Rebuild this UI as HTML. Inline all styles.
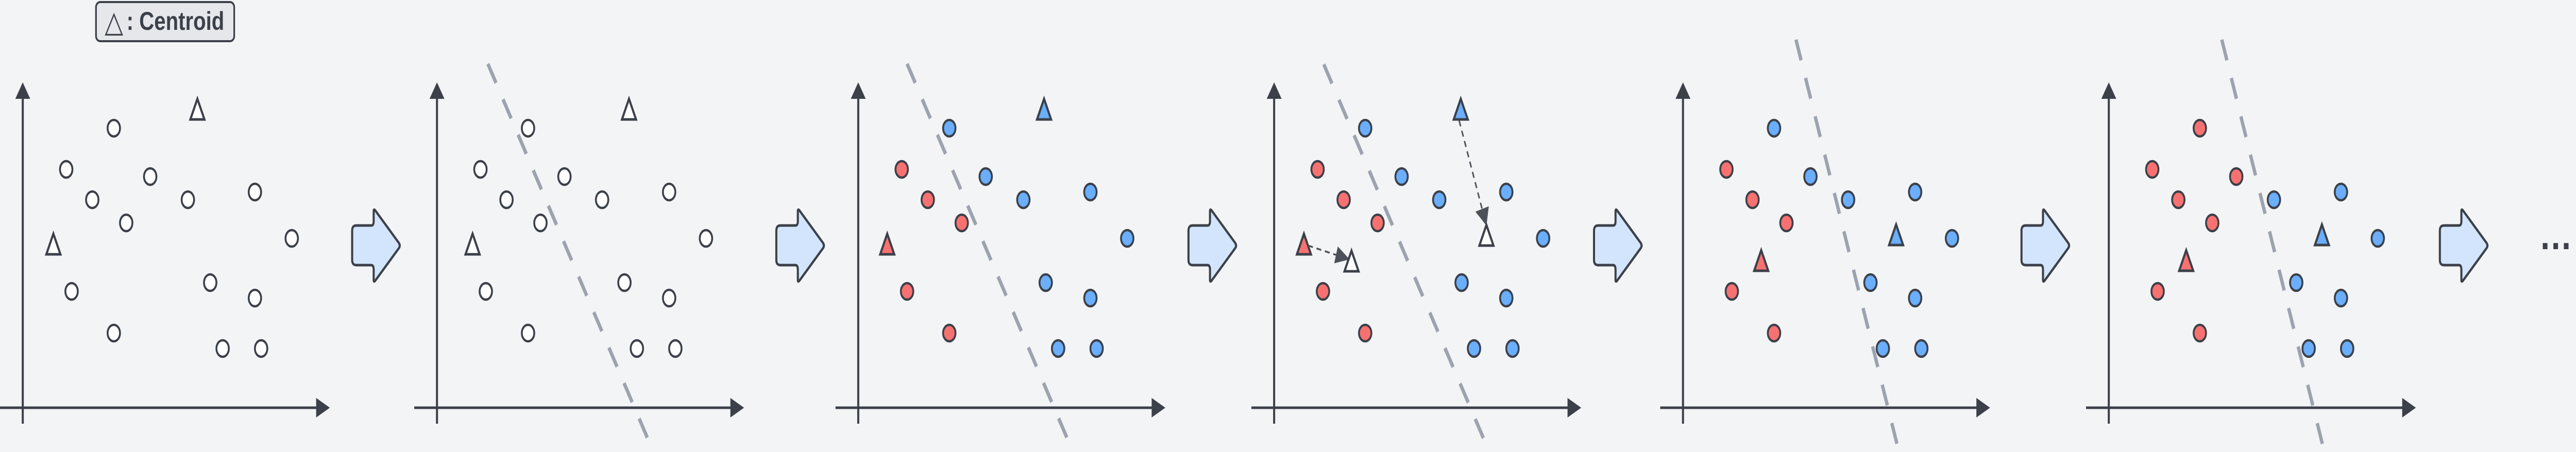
<!DOCTYPE html>
<html><head><meta charset="utf-8"><style>
html,body{margin:0;padding:0;background:#f3f4f6;width:100%;height:100%;overflow:hidden;}
svg{display:block;width:100vw;height:100vh;}
</style></head><body>
<svg id="chart" viewBox="0 0 6225 878" preserveAspectRatio="none" xmlns="http://www.w3.org/2000/svg">
<rect x="0" y="0" width="6225" height="878" fill="#f3f4f6"/>
<defs>
<marker id="ah2" viewBox="0 0 10 10" refX="9" refY="5" markerWidth="34" markerHeight="34" markerUnits="userSpaceOnUse" orient="auto">
<path d="M0,0 L10,5 L0,10 z" fill="#4b5059"/>
</marker>
</defs>
<g>
<rect x="232" y="4" width="334" height="76" rx="10" fill="#e5e7eb" stroke="#3b4049" stroke-width="4"/>
<text x="253" y="62" font-family="DejaVu Sans, sans-serif" font-size="58" fill="#3b4049">△</text>
<text x="306" y="58" font-family="Liberation Sans, sans-serif" font-weight="bold" font-size="50" fill="#3b4049">: Centroid</text>
</g>
<g id="panels"></g>
<text x="6136" y="484" font-family="Liberation Sans, sans-serif" font-size="80" font-weight="bold" fill="#3b4049">…</text>
</svg>
<script>
// Data point coordinates (data units)
const pointX = [4.4, 2.1, 6.16, 3.36, 7.98, 11.22, 5.0, 13.0, 2.36, 9.06, 11.22, 4.4, 9.66, 11.52];
const pointY = [10.86, 9.26, 8.98, 8.08, 8.08, 8.38, 7.18, 6.58, 4.52, 4.86, 4.26, 2.9, 2.3, 2.3];
// Cluster assignments per panel: n = unassigned, r = red, b = blue
const assign1 = "nnnnnnnnnnnnnn";
const assign2 = "nnnnnnnnnnnnnn";
const assign3 = "brbrbbrbrbbrbb";
const assign4 = "brbrbbrbrbbrbb";
const assign5 = "brbrbbrbrbbrbb";
const assign6 = "rrrrbbrbrbbrbb";
// Centroid positions per panel [x, y] (data units)
const centA1 = [8.44, 11.6], centB1 = [1.48, 6.36];
const centA2 = [9.28, 11.6], centB2 = [1.72, 6.36];
const centA3 = [8.98, 11.6], centB3 = [1.4, 6.36];
const centA4old = [9.02, 11.6], centB4old = [1.44, 6.36];
const centA4new = [10.26, 6.7], centB4new = [3.74, 5.7];
const centA5 = [10.3, 6.72], centB5 = [3.78, 5.72];
const centA6 = [10.3, 6.72], centB6 = [3.74, 5.72];
// Boundary lines [x1, y1, x2, y2] (data units)
const bound2 = [2.46, 13.36, 10.46, -1.72];
const bound3 = [2.36, 13.36, 10.38, -1.72];
const bound4 = [2.4, 13.34, 10.4, -1.72];
const bound5 = [5.46, 14.3, 10.44, -1.72];
const bound6 = [5.46, 14.3, 10.42, -1.72];

const SCALE = 50, ORIGIN_Y = 792;
const axisX = [55, 1056, 2074, 3079, 4067, 5096];
const arrowX = [851, 1876, 2872, 3852, 4885, 5896];
const NS = "http://www.w3.org/2000/svg";
const root = document.getElementById('panels');
const DARK = "#3b4049";
function mk(tag, attrs, parent){const e=document.createElementNS(NS,tag);for(const k in attrs)e.setAttribute(k,attrs[k]);(parent||root).appendChild(e);return e;}
function sx(p,v){return axisX[p]+v*SCALE;}
function sy(v){return ORIGIN_Y-v*SCALE;}
const colors = {n:"#ffffff", r:"#f87171", b:"#6aaefc"};

function drawAxes(p,g){
  const ox=axisX[p];
  let e=mk('line',{x1:ox-55,y1:ORIGIN_Y,x2:ox+712,y2:ORIGIN_Y,stroke:DARK,'stroke-width':5},g);
  
  
  e=mk('polygon',{points:`${ox+742},${ORIGIN_Y} ${ox+709},${ORIGIN_Y-19} ${ox+709},${ORIGIN_Y+19}`,fill:DARK},g);
  
  
  e=mk('line',{x1:ox,y1:823,x2:ox,y2:188,stroke:DARK,'stroke-width':5},g);
  
  
  e=mk('polygon',{points:`${ox},160 ${ox-18},192 ${ox+18},192`,fill:DARK},g);
  
  
}
function drawBound(p,b,g){
  const e=mk('line',{x1:sx(p,b[0]),y1:sy(b[1]),x2:sx(p,b[2]),y2:sy(b[3]),stroke:"#9ca3af",'stroke-width':8,'stroke-dasharray':'42 36'},g);
  
  
}
function drawPoints(p,asg,g){
  for(let i=0;i<pointX.length;i++){
    const e=mk('ellipse',{cx:sx(p,pointX[i]),cy:sy(pointY[i]),rx:15,ry:16,fill:colors[asg[i]],stroke:DARK,'stroke-width':4.5},g);
    
    
  }
}
function drawTri(p,c,fill,g,name){
  const cx=sx(p,c[0]), cy=sy(c[1]);
  const e=mk('polygon',{points:`${cx},${cy-20} ${cx-17},${cy+20} ${cx+17},${cy+20}`,fill:fill,stroke:DARK,'stroke-width':5},g);
  
  
}
function drawArrow(p,g){
  const l=arrowX[p], n=l+52, t=l+115;
  const e=mk('path',{d:`M${l+10},438 L${n-6},438 Q${n},438 ${n},430 L${n},410 Q${n},405 ${n+4},409 L${t-2},472 Q${t+2},477 ${t-2},482 L${n+4},545 Q${n},549 ${n},544 L${n},524 Q${n},515 ${n-6},515 L${l+10},515 Q${l},515 ${l},505 L${l},448 Q${l},438 ${l+10},438 Z`,fill:"#d2e5fd",stroke:DARK,'stroke-width':5,'stroke-linejoin':'round'},g);
  
  
}
const panels=[
  {a:assign1,bound:null,A:centA1,B:centB1,fa:"#fff",fb:"#fff"},
  {a:assign2,bound:bound2,A:centA2,B:centB2,fa:"#fff",fb:"#fff"},
  {a:assign3,bound:bound3,A:centA3,B:centB3,fa:colors.b,fb:colors.r},
  {a:assign4,bound:bound4,A:centA4old,B:centB4old,fa:colors.b,fb:colors.r},
  {a:assign5,bound:bound5,A:centA5,B:centB5,fa:colors.b,fb:colors.r},
  {a:assign6,bound:bound6,A:centA6,B:centB6,fa:colors.b,fb:colors.r}
];
panels.forEach((P,p)=>{
  const g=mk('g',{});
  
  
  drawAxes(p,g);
  if(P.bound) drawBound(p,P.bound,g);
  drawPoints(p,P.a,g);
  drawTri(p,P.A,P.fa,g,'centroid-a');
  drawTri(p,P.B,P.fb,g,'centroid-b');
  if(p===3){
    let e=mk('line',{x1:sx(p,centB4old[0])+10,y1:sy(centB4old[1])+3,x2:sx(p,centB4new[0])-8,y2:sy(centB4new[1])-4,stroke:"#4b5059",'stroke-width':3.5,'stroke-dasharray':'12 9','marker-end':'url(#ah2)'},g);
    
    
    e=mk('line',{x1:sx(p,centA4old[0])-4,y1:sy(centA4old[1])+22,x2:sx(p,centA4new[0])-1,y2:sy(centA4new[1])-22,stroke:"#4b5059",'stroke-width':3.5,'stroke-dasharray':'12 9','marker-end':'url(#ah2)'},g);
    
    
    drawTri(p,centA4new,"#fff",g,'centroid-a-new');
    drawTri(p,centB4new,"#fff",g,'centroid-b-new');
  }
  drawArrow(p,g);
});
</script>
</body></html>
